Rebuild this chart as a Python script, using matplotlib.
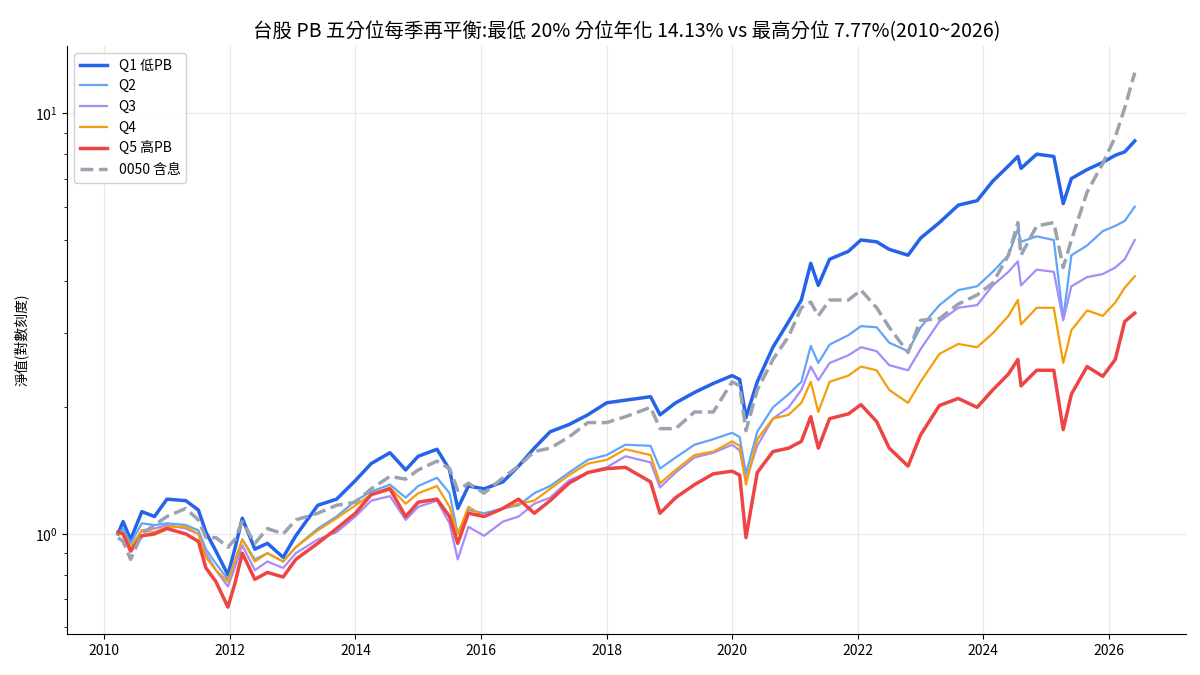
import matplotlib
matplotlib.use("Agg")
import matplotlib.pyplot as plt
import pandas as pd

plt.rcParams['font.family'] = ['Noto Sans CJK TC', 'DejaVu Sans']
plt.rcParams['axes.unicode_minus'] = False

# sample dates (decimal years)
years = [2010.22, 2010.30, 2010.42, 2010.60, 2010.80, 2011.00, 2011.30, 2011.50, 2011.62, 2011.78,
         2011.97, 2012.08, 2012.20, 2012.40, 2012.60, 2012.85, 2013.05, 2013.40, 2013.70, 2014.00,
         2014.25, 2014.55, 2014.80, 2015.00, 2015.30, 2015.50, 2015.63, 2015.80, 2016.05, 2016.35,
         2016.60, 2016.85, 2017.10, 2017.40, 2017.70, 2018.00, 2018.30, 2018.70, 2018.85, 2019.10,
         2019.40, 2019.70, 2020.00, 2020.12, 2020.22, 2020.40, 2020.65, 2020.90, 2021.10, 2021.25,
         2021.37, 2021.55, 2021.85, 2022.05, 2022.30, 2022.50, 2022.80, 2023.00, 2023.30, 2023.60,
         2023.90, 2024.15, 2024.40, 2024.55, 2024.60, 2024.85, 2025.12, 2025.27, 2025.40, 2025.65,
         2025.90, 2026.10, 2026.25, 2026.41]

q1 = [1.00, 1.07, 0.97, 1.13, 1.10, 1.21, 1.20, 1.14, 1.01, 0.91,
      0.80, 0.92, 1.09, 0.92, 0.95, 0.88, 0.99, 1.17, 1.21, 1.34,
      1.47, 1.56, 1.42, 1.53, 1.59, 1.42, 1.15, 1.30, 1.28, 1.33,
      1.45, 1.60, 1.75, 1.82, 1.92, 2.05, 2.08, 2.12, 1.92, 2.05,
      2.17, 2.28, 2.38, 2.33, 1.89, 2.30, 2.78, 3.20, 3.60, 4.40,
      3.90, 4.50, 4.70, 5.00, 4.95, 4.75, 4.60, 5.05, 5.50, 6.05,
      6.20, 6.90, 7.50, 7.90, 7.40, 8.00, 7.90, 6.10, 7.00, 7.35,
      7.65, 7.95, 8.10, 8.60]

q2 = [1.00, 1.03, 0.95, 1.06, 1.05, 1.06, 1.05, 1.02, 0.92, 0.85,
      0.78, 0.86, 0.97, 0.87, 0.90, 0.86, 0.93, 1.03, 1.10, 1.20,
      1.26, 1.31, 1.22, 1.30, 1.36, 1.25, 1.00, 1.14, 1.12, 1.15,
      1.17, 1.25, 1.30, 1.40, 1.50, 1.54, 1.63, 1.62, 1.43, 1.52,
      1.63, 1.68, 1.74, 1.70, 1.39, 1.75, 2.00, 2.15, 2.30, 2.80,
      2.55, 2.82, 2.97, 3.12, 3.10, 2.85, 2.72, 3.10, 3.50, 3.80,
      3.88, 4.20, 4.60, 5.30, 4.95, 5.10, 5.00, 3.25, 4.60, 4.85,
      5.25, 5.40, 5.55, 6.00]

q3 = [1.00, 1.00, 0.92, 1.02, 1.03, 1.05, 1.03, 1.00, 0.90, 0.82,
      0.75, 0.83, 0.94, 0.82, 0.86, 0.83, 0.90, 0.97, 1.01, 1.10,
      1.20, 1.23, 1.08, 1.16, 1.20, 1.06, 0.87, 1.04, 0.99, 1.07,
      1.10, 1.18, 1.22, 1.34, 1.40, 1.44, 1.53, 1.48, 1.29, 1.40,
      1.52, 1.56, 1.63, 1.58, 1.34, 1.62, 1.88, 2.00, 2.20, 2.50,
      2.32, 2.55, 2.66, 2.78, 2.72, 2.52, 2.45, 2.75, 3.20, 3.45,
      3.50, 3.90, 4.20, 4.45, 3.90, 4.25, 4.20, 3.22, 3.88, 4.08,
      4.15, 4.30, 4.50, 5.00]

q4 = [1.00, 1.01, 0.93, 1.02, 1.01, 1.04, 1.04, 1.00, 0.88, 0.82,
      0.77, 0.86, 0.97, 0.86, 0.90, 0.86, 0.93, 1.02, 1.09, 1.17,
      1.24, 1.29, 1.18, 1.25, 1.30, 1.16, 1.00, 1.16, 1.10, 1.15,
      1.18, 1.20, 1.28, 1.38, 1.47, 1.50, 1.59, 1.54, 1.32, 1.42,
      1.54, 1.57, 1.66, 1.62, 1.31, 1.68, 1.88, 1.92, 2.05, 2.30,
      1.95, 2.30, 2.38, 2.50, 2.45, 2.20, 2.05, 2.30, 2.68, 2.83,
      2.78, 3.00, 3.30, 3.60, 3.15, 3.45, 3.45, 2.55, 3.05, 3.40,
      3.30, 3.55, 3.85, 4.10]

q5 = [1.01, 1.00, 0.91, 0.99, 1.00, 1.03, 1.00, 0.96, 0.83, 0.77,
      0.67, 0.76, 0.90, 0.78, 0.81, 0.79, 0.87, 0.95, 1.03, 1.12,
      1.24, 1.28, 1.10, 1.19, 1.21, 1.10, 0.95, 1.12, 1.10, 1.15,
      1.21, 1.12, 1.20, 1.32, 1.40, 1.43, 1.44, 1.33, 1.12, 1.22,
      1.31, 1.39, 1.41, 1.38, 0.98, 1.40, 1.57, 1.60, 1.66, 1.90,
      1.60, 1.88, 1.93, 2.03, 1.85, 1.60, 1.45, 1.72, 2.02, 2.10,
      2.00, 2.20, 2.40, 2.60, 2.25, 2.45, 2.45, 1.77, 2.15, 2.50,
      2.37, 2.60, 3.20, 3.35]

etf0050 = [0.98, 0.96, 0.87, 1.00, 1.05, 1.10, 1.15, 1.08, 0.98, 0.98,
           0.93, 0.97, 1.07, 0.95, 1.03, 1.00, 1.08, 1.12, 1.17, 1.19,
           1.28, 1.37, 1.35, 1.42, 1.49, 1.43, 1.27, 1.32, 1.25, 1.36,
           1.45, 1.57, 1.60, 1.70, 1.84, 1.84, 1.90, 2.00, 1.78, 1.78,
           1.95, 1.95, 2.30, 2.25, 1.76, 2.20, 2.60, 2.95, 3.45, 3.56,
           3.30, 3.60, 3.60, 3.80, 3.45, 3.10, 2.70, 3.22, 3.25, 3.52,
           3.70, 3.95, 4.60, 5.50, 4.60, 5.40, 5.50, 4.30, 5.00, 6.50,
           7.60, 8.80, 10.30, 12.50]

labels = ['Q1 低PB', 'Q2', 'Q3', 'Q4', 'Q5 高PB', '0050 含息']
colors = ['#2563eb', '#60a5fa', '#a78bfa', '#f59e0b', '#ef4444', '#9ca3af']


def to_dates(ys):
    out = []
    for y in ys:
        yr = int(y)
        out.append(pd.Timestamp(year=yr, month=1, day=1) + pd.Timedelta(days=(y - yr) * 365.25))
    return out


dates = to_dates(years)

fig, ax = plt.subplots(figsize=(12, 6.75), dpi=100)

series = [q1, q2, q3, q4, q5, etf0050]
widths = [2.5, 1.6, 1.6, 1.6, 2.5, 2.5]
styles = ['-', '-', '-', '-', '-', '--']
for vals, lab, col, lw, ls in zip(series, labels, colors, widths, styles):
    ax.plot(dates, vals, color=col, lw=lw, ls=ls, label=lab)

ax.set_yscale('log')
ax.set_ylabel('淨值(對數刻度)', fontsize=10)
ax.set_title('台股 PB 五分位每季再平衡:最低 20% 分位年化 14.13% vs 最高分位 7.77%(2010~2026)',
             fontsize=14)
ax.grid(True, which='major', color='#e8e8e8', lw=0.8)
ax.spines['top'].set_visible(False)
ax.spines['right'].set_visible(False)
ax.tick_params(labelsize=10)
ax.legend(loc='upper left', fontsize=10, framealpha=0.9)

plt.subplots_adjust(left=0.056, right=0.988, bottom=0.061, top=0.932)
plt.savefig('out.png', dpi=100, facecolor='white')
